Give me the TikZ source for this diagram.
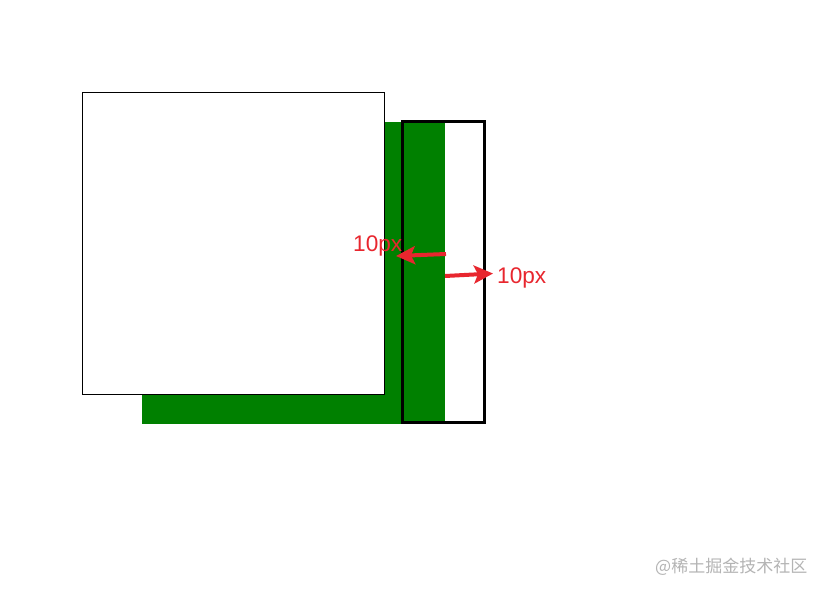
\documentclass[tikz,border=0pt]{standalone}
\usepackage{fontspec}
\setmainfont{Liberation Sans}
\newfontfamily\cjkfont{Noto Sans CJK SC}
\usetikzlibrary{arrows.meta}
\definecolor{boxgreen}{RGB}{0,128,0}
\definecolor{arrred}{RGB}{232,38,46}
\definecolor{wmgray}{RGB}{180,180,180}
\begin{document}
\begin{tikzpicture}[x=1pt,y=-1pt,
  redarrow/.style={draw=arrred,line width=4pt,-{Stealth[length=19pt,width=18pt,inset=4pt]}},
  label/.style={text=arrred,font=\fontsize{22.6}{26}\selectfont,inner sep=0pt,anchor=base west},
  whitebox/.style={draw=black,fill=white,line width=0.8pt},
  outlinebox/.style={draw=black,line width=3pt}]
\useasboundingbox[fill=white] (0,0) rectangle (828,594);
% green block
\fill[boxgreen] (142,122) rectangle (445,424);
% white box on top
\draw[whitebox] (82.5,92.5) rectangle (384.5,394.5);
% black outlined box
\draw[outlinebox] (402.5,121.5) rectangle (484.5,422.5);
% arrows
\coordinate (la) at (446,254);
\coordinate (lb) at (396,256);
\coordinate (ra) at (445,276);
\coordinate (rb) at (493,273.5);
\draw[redarrow] (la) -- (lb);
\draw[redarrow] (ra) -- (rb);
% labels
\node[label] (ltxt) at (353,251) {10px};
\node[label] (rtxt) at (497,283) {10px};
% watermark
\node[text=wmgray,font=\cjkfont\fontsize{17}{20}\selectfont,inner sep=0pt,anchor=base west] (wm) at (655,572) {@稀土掘金技术社区};
\end{tikzpicture}
\end{document}
